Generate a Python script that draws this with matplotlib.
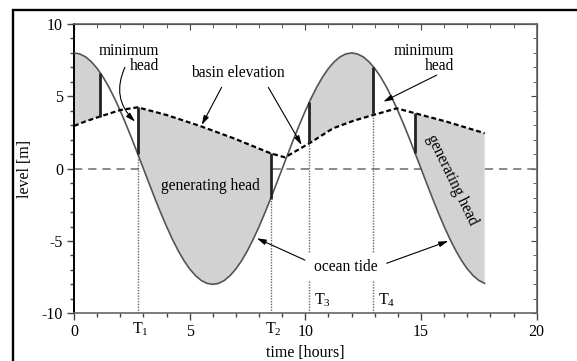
import numpy as np
import matplotlib
matplotlib.use("Agg")
import matplotlib.pyplot as plt
from matplotlib.patches import Rectangle

plt.rcParams['font.family'] = ['Liberation Serif', 'DejaVu Serif']
plt.rcParams['mathtext.fontset'] = 'custom'
plt.rcParams['mathtext.rm'] = 'Liberation Serif'
plt.rcParams['mathtext.it'] = 'Liberation Serif:italic'
plt.rcParams['axes.unicode_minus'] = False

# ---------------- data ----------------
tide_time = np.arange(0, 17.76, 0.25)
tide_level = [8.00, 7.93, 7.73, 7.39, 6.93, 6.35, 5.66, 4.87, 4.00, 3.06, 2.07, 1.04,
              0.00, -1.04, -2.07, -3.06, -4.00, -4.87, -5.66, -6.35, -6.93, -7.39, -7.73, -7.93,
              -8.00, -7.93, -7.73, -7.39, -6.93, -6.35, -5.66, -4.87, -4.00, -3.06, -2.07, -1.04,
              0.00, 1.04, 2.07, 3.06, 4.00, 4.87, 5.66, 6.35, 6.93, 7.39, 7.73, 7.93,
              8.00, 7.93, 7.73, 7.39, 6.93, 6.35, 5.66, 4.87, 4.00, 3.06, 2.07, 1.04,
              0.00, -1.04, -2.07, -3.06, -4.00, -4.87, -5.66, -6.35, -6.93, -7.39, -7.73, -7.93]

basin_time = [0.0, 0.5, 1.12, 2.0, 2.75, 4.0, 5.45, 6.9, 8.5, 9.12, 10.17, 11.2, 12.1, 12.94, 13.95, 14.74, 16.1, 17.75]
basin_level = [2.95, 3.27, 3.6, 4.05, 4.24, 3.71, 2.95, 2.1, 1.06, 0.78, 1.75, 2.79, 3.32, 3.71, 4.17, 3.83, 3.25, 2.45]

bar_time = [1.12, 2.75, 8.5, 10.17, 12.94, 14.74]
bar_tide = [6.64, 1.04, -2.07, 4.6, 7.0, 1.1]
bar_basin = [3.6, 4.24, 1.06, 1.75, 3.71, 3.83]

fill_from = [0.0, 2.75, 10.17, 14.74]
fill_to = [1.12, 8.5, 12.94, 17.75]

mark_time = [2.75, 8.5, 10.17, 12.94]
mark_top = [1.04, -2.07, 1.75, 3.71]
mark_labels = ['T$_1$', 'T$_2$', 'T$_3$', 'T$_4$']

xticks = [0, 5, 10, 15, 20]
yticks = [-10, -5, 0, 5, 10]

# ---------------- figure ----------------
fig = plt.figure(figsize=(5.77, 3.61), dpi=100)
ax = fig.add_axes([74/577, 1-313.3/361, (536.7-74)/577, (313.3-24)/361])
ax.set_xlim(0, 20)
ax.set_ylim(-10, 10)

# merged tide samples (grid + bar points)
tt_map = {round(float(t), 4): v for t, v in zip(tide_time, tide_level)}
for t, v in zip(bar_time, bar_tide):
    tt_map[round(t, 4)] = v
tt = np.array(sorted(tt_map))
tv = np.array([tt_map[k] for k in tt])
bt = np.array(basin_time)
bv = np.array(basin_level)

ax.axhline(0, color='#777777', lw=1.2, dashes=(5, 3.5), zorder=1)

for a, b in zip(fill_from, fill_to):
    s1 = (tt >= a - 1e-6) & (tt <= b + 1e-6)
    s2 = (bt >= a - 1e-6) & (bt <= b + 1e-6)
    xs = np.concatenate([tt[s1], bt[s2][::-1]])
    ys = np.concatenate([tv[s1], bv[s2][::-1]])
    ax.fill(xs, ys, color='#d2d2d2', lw=0, zorder=2)

for t, top in zip(mark_time, mark_top):
    ax.vlines(t, -10, top, colors='#666666', linestyles=(0, (1, 1)), lw=1.0, zorder=2.5)

ax.plot(tide_time, tide_level, color='#555555', lw=1.2, zorder=3)
ax.plot(basin_time, basin_level, color='black', lw=1.6, dashes=(2.2, 1.3), zorder=3.5)
ax.vlines(bar_time, bar_basin, bar_tide, colors='#222222', lw=2.0, zorder=4)

# T labels
for t, lab in zip(mark_time[:2], mark_labels[:2]):
    ax.annotate(lab, xy=(t, 0), xycoords=('data', 'axes fraction'), xytext=(2, -5),
                textcoords='offset points', ha='center', va='top', fontsize=11.5)
for t, lab in zip(mark_time[2:], mark_labels[2:]):
    ax.text(t + 0.22, -9.1, lab, ha='left', va='center', fontsize=11.5, zorder=5)

fs = 11.2
ap = dict(arrowstyle='-|>,head_length=0.55,head_width=0.16', color='black', lw=0.8,
          shrinkA=0, shrinkB=0)

ax.text(3.67, 7.6, 'minimum\nhead', ha='right', va='center', fontsize=fs,
        multialignment='right', linespacing=0.95, zorder=5)
ap1 = dict(ap, connectionstyle='arc3,rad=0.35')
ax.annotate('', xy=(2.64, 3.25), xytext=(2.2, 7.0), arrowprops=ap1, zorder=5)

ax.text(16.43, 7.6, 'minimum\nhead', ha='right', va='center', fontsize=fs,
        multialignment='right', linespacing=0.95, zorder=5)
ax.annotate('', xy=(13.37, 4.63), xytext=(15.68, 6.47), arrowprops=ap, zorder=5)

ax.text(7.07, 6.63, 'basin elevation', ha='center', va='center', fontsize=fs, zorder=5)
ax.annotate('', xy=(5.52, 3.02), xytext=(6.38, 5.62), arrowprops=ap, zorder=5)
ax.annotate('', xy=(9.84, 1.63), xytext=(8.4, 5.62), arrowprops=ap, zorder=5)

ax.text(5.88, -1.2, 'generating head', ha='center', va='center', fontsize=fs, zorder=5)
ax.text(16.34, -0.78, 'generating head', ha='center', va='center', fontsize=fs,
        rotation=-64, rotation_mode='anchor', zorder=5)

ax.text(11.73, -6.77, 'ocean tide', ha='center', va='center', fontsize=fs, zorder=5,
        bbox=dict(boxstyle='square,pad=0.35', fc='white', ec='none'))
ax.annotate('', xy=(7.9, -4.81), xytext=(9.98, -6.32), arrowprops=ap, zorder=5)
ax.annotate('', xy=(16.18, -5.0), xytext=(13.52, -6.54), arrowprops=ap, zorder=5)

# axes styling
ax.set_xticks(xticks)
ax.set_yticks(yticks)
ax.set_xticks(np.arange(0, 21, 1), minor=True)
ax.set_yticks(np.arange(-10, 11, 1), minor=True)
ax.tick_params(which='both', direction='out', labelsize=11.5, color='#444444', pad=3)
ax.tick_params(which='major', length=5, width=1)
ax.tick_params(which='minor', length=3, width=1)
for s in ['top', 'right', 'bottom']:
    ax.spines[s].set_color('#666666')
    ax.spines[s].set_linewidth(1.2)
ax.spines['left'].set_color('black')
ax.spines['left'].set_linewidth(1.4)

secx = ax.secondary_xaxis('top')
secx.set_xticks(xticks)
secx.set_xticks(np.arange(0, 21, 1), minor=True)
secx.tick_params(which='both', direction='in', labeltop=False, color='#444444')
secx.tick_params(which='major', length=4)
secx.tick_params(which='minor', length=3)
secy = ax.secondary_yaxis('right')
secy.set_yticks(yticks)
secy.set_yticks(np.arange(-10, 11, 1), minor=True)
secy.tick_params(which='both', direction='in', labelright=False, color='#444444')
secy.tick_params(which='major', length=4)
secy.tick_params(which='minor', length=3)

ax.set_xlabel('time [hours]', fontsize=11.5, labelpad=3)
ax.set_ylabel('level [m]', fontsize=11.5, labelpad=6)

fig.add_artist(Rectangle((13/577, -0.1), 1.2, (361-10)/361 + 0.1, transform=fig.transFigure,
                         fill=False, lw=1.7, ec='black'))

fig.savefig('out.png', dpi=100)
